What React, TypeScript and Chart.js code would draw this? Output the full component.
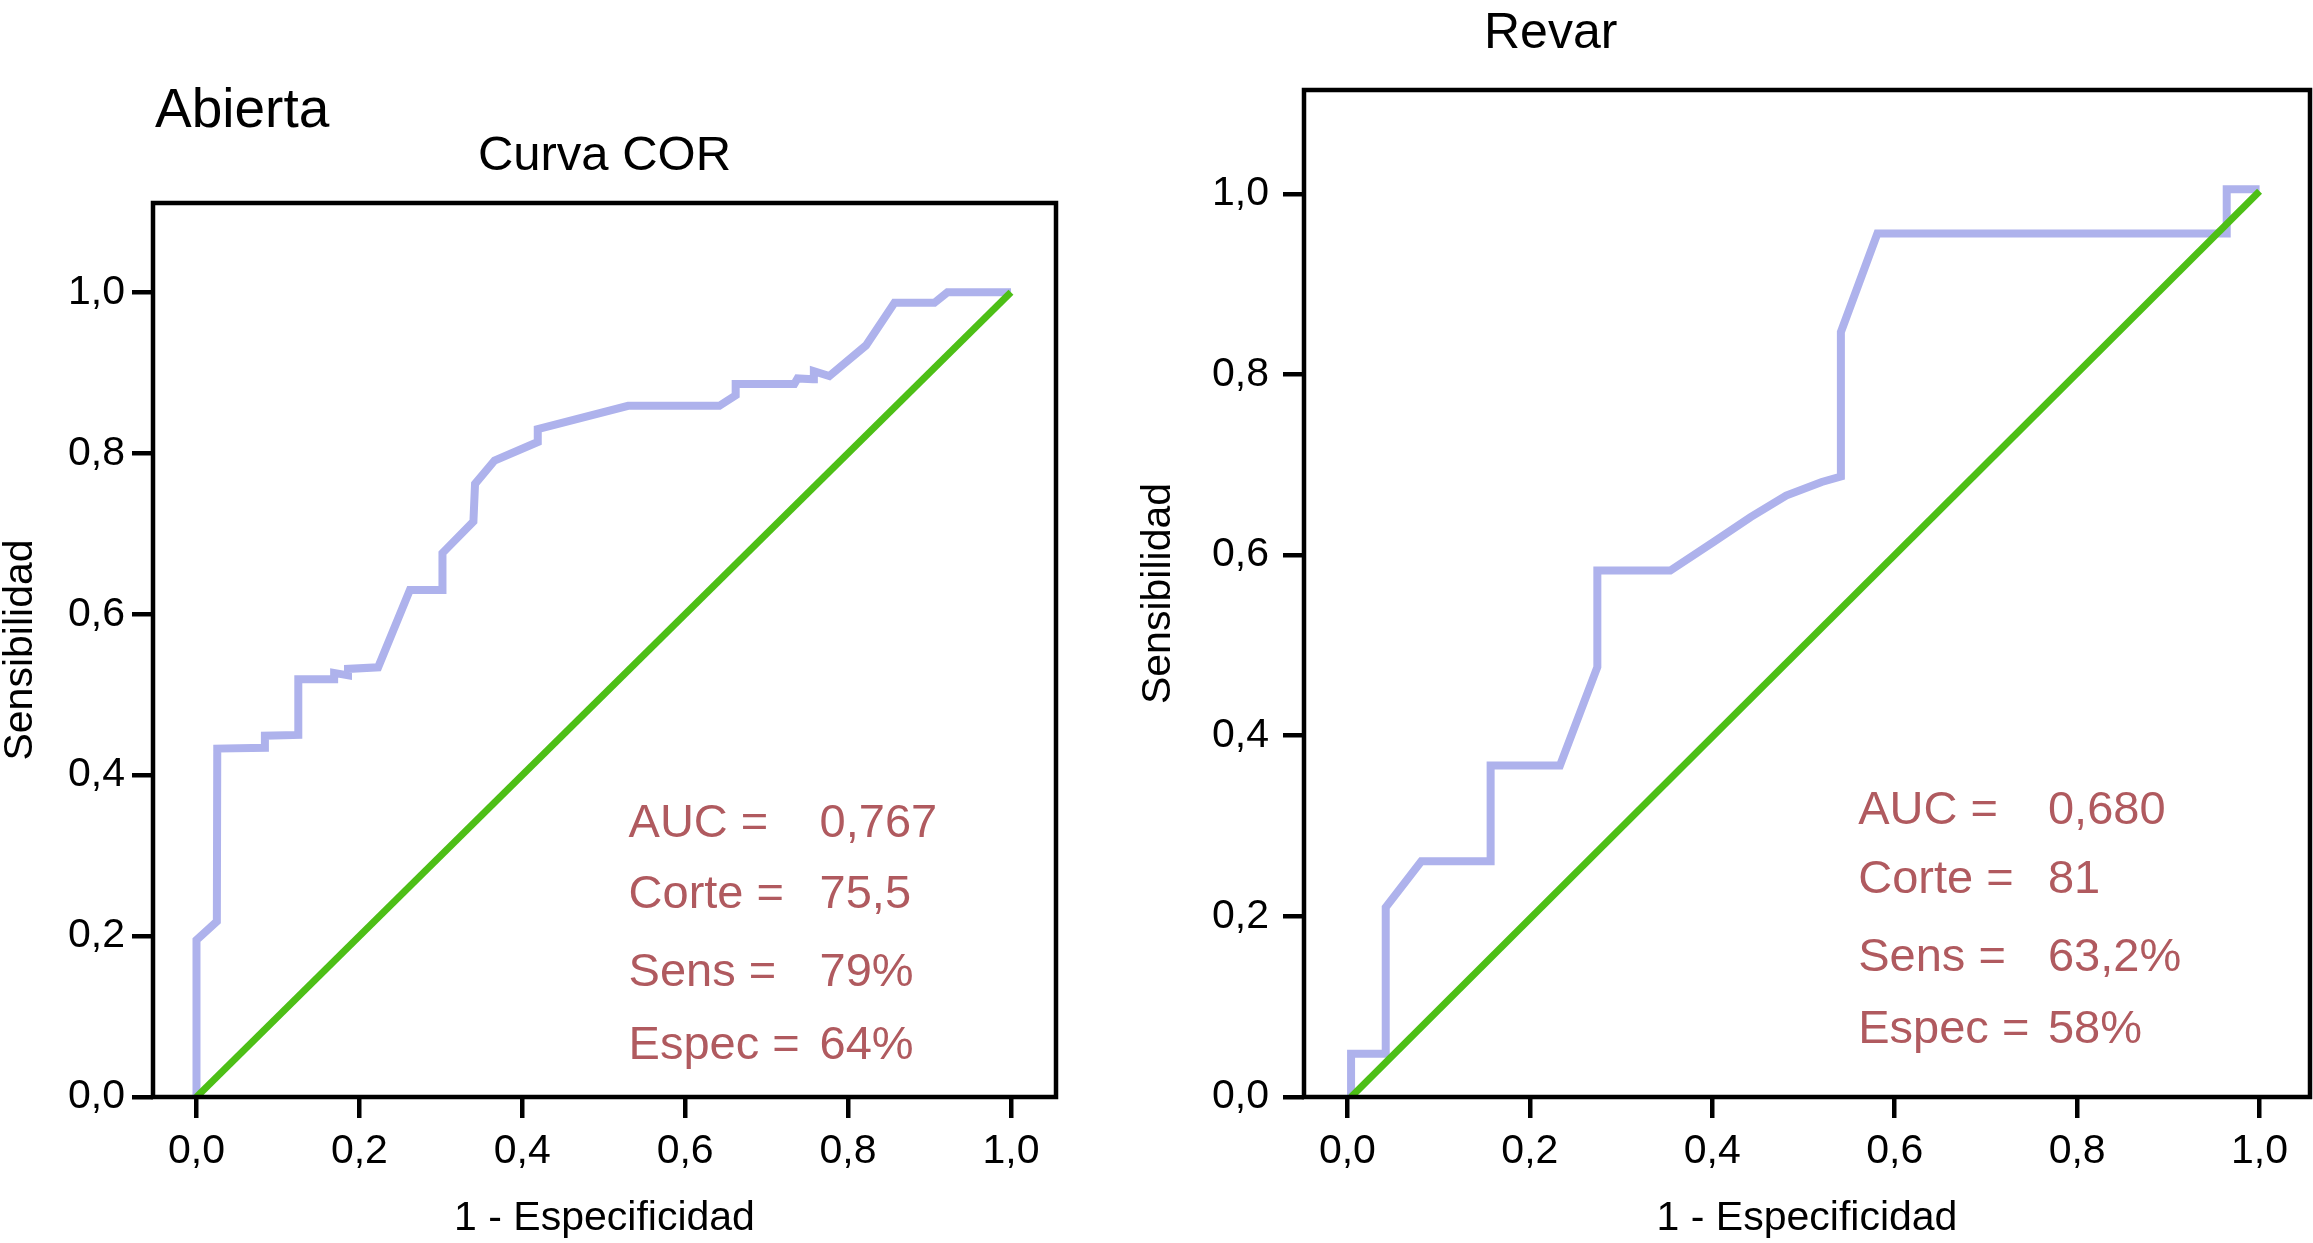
import React, { useEffect, useRef } from 'react';
import { Chart, registerables } from 'chart.js';

Chart.register(...registerables);

// ---------- data ----------
const tickValues = [0, 0.2, 0.4, 0.6, 0.8, 1.0];

const abiertaFpr = [0, 0, 0.025, 0.0255, 0.084, 0.084, 0.125, 0.125, 0.169, 0.169, 0.186, 0.186, 0.223, 0.262, 0.302, 0.302, 0.34, 0.342, 0.366, 0.419, 0.419, 0.53, 0.642, 0.662, 0.662, 0.734, 0.738, 0.757, 0.758, 0.777, 0.822, 0.857, 0.906, 0.922, 1.0];
const abiertaTpr = [0, 0.195, 0.218, 0.433, 0.434, 0.449, 0.45, 0.519, 0.519, 0.527, 0.524, 0.532, 0.534, 0.63, 0.63, 0.676, 0.715, 0.762, 0.791, 0.814, 0.83, 0.859, 0.859, 0.872, 0.886, 0.886, 0.893, 0.892, 0.902, 0.896, 0.934, 0.987, 0.987, 1.0, 1.0];
const abiertaRefX = [0, 1];
const abiertaRefY = [0, 1];

const revarFpr = [0.004, 0.004, 0.042, 0.042, 0.081, 0.157, 0.157, 0.233, 0.274, 0.274, 0.354, 0.402, 0.442, 0.481, 0.52, 0.541, 0.541, 0.581, 0.964, 0.964, 1.0];
const revarTpr = [0, 0.048, 0.048, 0.21, 0.261, 0.261, 0.367, 0.367, 0.476, 0.583, 0.583, 0.615, 0.642, 0.666, 0.681, 0.687, 0.847, 0.956, 0.956, 1.005, 1.005];
const revarRefX = [0.004, 1];
const revarRefY = [0, 1.003];

const statLabels = ['AUC =', 'Corte =', 'Sens =', 'Espec ='];
const abiertaStatValues = ['0,767', '75,5', '79%', '64%'];
const revarStatValues = ['0,680', '81', '63,2%', '58%'];

const xTitle = '1 - Especificidad';
const yTitle = 'Sensibilidad';

// ---------- styles / layout ----------
const FONT = '"Liberation Sans", Arial, Helvetica, sans-serif';
const ROC_COLOR = '#aeb2ec';
const DIAG_COLOR = '#4dbf16';
const STAT_COLOR = '#b05a5f';

type Panel = {
  fpr: number[]; tpr: number[]; refX: number[]; refY: number[];
  values: string[];
  left: number; width: number;
  padTop: number; padRight: number; yScaleWidth: number;
  xMin: number; xMax: number; yMax: number;
  yTickPad: number; yTitlePad: number;
  statX: number; valueX: number; statY: number[];
  titles: { text: string; size: number; x: number | 'center'; y: number; align: CanvasTextAlign }[];
};

const panels: Panel[] = [
  {
    fpr: abiertaFpr, tpr: abiertaTpr, refX: abiertaRefX, refY: abiertaRefY,
    values: abiertaStatValues,
    left: 0, width: 1110,
    padTop: 203, padRight: 54, yScaleWidth: 153,
    xMin: -0.0534, xMax: 1.0553, yMax: 1.111,
    yTickPad: 7, yTitlePad: 0,
    statX: 0.5305, valueX: 0.765, statY: [0.323, 0.2354, 0.1385, 0.0472],
    titles: [
      { text: 'Abierta', size: 55, x: 155, y: 127, align: 'left' },
      { text: 'Curva COR', size: 49, x: 'center', y: 170, align: 'center' },
    ],
  },
  {
    fpr: revarFpr, tpr: revarTpr, refX: revarRefX, refY: revarRefY,
    values: revarStatValues,
    left: 1110, width: 1203,
    padTop: 90, padRight: 3, yScaleWidth: 194,
    xMin: -0.0476, xMax: 1.0553, yMax: 1.115,
    yTickPad: 14, yTitlePad: 28,
    statX: 0.56, valueX: 0.768, statY: [0.3025, 0.2255, 0.139, 0.0593],
    titles: [
      { text: 'Revar', size: 50, x: 374, y: 48, align: 'left' },
    ],
  },
];

const fmt = (v: number) => Number(v).toFixed(1).replace('.', ',');

function RocPanel({ p }: { p: Panel }) {
  const ref = useRef<HTMLCanvasElement | null>(null);
  useEffect(() => {
    const canvas = ref.current;
    if (!canvas) return;
    const overlay = {
      id: 'overlay',
      afterDraw(chart: any) {
        const { ctx, chartArea: a, scales } = chart;
        ctx.save();
        ctx.strokeStyle = '#000';
        ctx.lineWidth = 4.5;
        ctx.strokeRect(a.left, a.top, a.right - a.left, a.bottom - a.top);
        ctx.fillStyle = '#000';
        ctx.textBaseline = 'alphabetic';
        for (const t of p.titles) {
          ctx.font = `${t.size}px ${FONT}`;
          ctx.textAlign = t.align;
          const x = t.x === 'center' ? (a.left + a.right) / 2 : t.x;
          ctx.fillText(t.text, x, t.y);
        }
        ctx.fillStyle = STAT_COLOR;
        ctx.font = `47px ${FONT}`;
        ctx.textAlign = 'left';
        statLabels.forEach((lab, i) => {
          const y = scales.y.getPixelForValue(p.statY[i]);
          ctx.fillText(lab, scales.x.getPixelForValue(p.statX), y);
          ctx.fillText(p.values[i], scales.x.getPixelForValue(p.valueX), y);
        });
        ctx.restore();
      },
    };
    const tickFont = { family: FONT, size: 41 };
    const grid = { drawOnChartArea: false, drawTicks: true, tickLength: 21, lineWidth: 4.5, color: '#000' };
    const chart = new Chart(canvas, {
      type: 'scatter',
      data: {
        datasets: [
          {
            label: 'ref',
            data: p.refX.map((x, i) => ({ x, y: p.refY[i] })),
            showLine: true, borderColor: DIAG_COLOR, borderWidth: 7, pointRadius: 0,
            borderCapStyle: 'butt', order: 0,
          },
          {
            label: 'roc',
            data: p.fpr.map((x, i) => ({ x, y: p.tpr[i] })),
            showLine: true, borderColor: ROC_COLOR, borderWidth: 8, pointRadius: 0,
            borderJoinStyle: 'miter', borderCapStyle: 'butt', order: 1,
          },
        ],
      },
      options: {
        animation: false,
        responsive: false,
        devicePixelRatio: 1,
        events: [],
        layout: { padding: { top: p.padTop, right: p.padRight, left: 0, bottom: 0 } },
        plugins: { legend: { display: false }, tooltip: { enabled: false } },
        scales: {
          x: {
            type: 'linear', min: p.xMin, max: p.xMax,
            afterBuildTicks: (s: any) => { s.ticks = tickValues.map((v) => ({ value: v })); },
            afterFit: (s: any) => { s.height = 146; },
            ticks: { callback: (v: any) => fmt(v), font: tickFont, color: '#000', padding: 9, maxRotation: 0, autoSkip: false },
            grid, border: { display: false },
            title: { display: true, text: xTitle, color: '#000', font: { family: FONT, size: 41, lineHeight: 1 }, padding: { top: 0, bottom: 4 } },
          },
          y: {
            type: 'linear', min: 0, max: p.yMax,
            afterBuildTicks: (s: any) => { s.ticks = tickValues.map((v) => ({ value: v })); },
            afterFit: (s: any) => { s.width = p.yScaleWidth; },
            ticks: { callback: (v: any) => fmt(v), font: tickFont, color: '#000', padding: p.yTickPad, autoSkip: false },
            grid, border: { display: false },
            title: { display: true, text: yTitle, color: '#000', font: { family: FONT, size: 41, lineHeight: 1 }, padding: { top: p.yTitlePad, bottom: 0 } },
          },
        },
      } as any,
      plugins: [overlay],
    });
    return () => chart.destroy();
  }, [p]);
  return (
    <canvas
      ref={ref}
      width={p.width}
      height={1243}
      style={{ position: 'absolute', left: p.left, top: 0, width: p.width, height: 1243 }}
    />
  );
}

export default function App() {
  return (
    <div style={{ position: 'absolute', left: 0, top: 0, width: 2313, height: 1243, background: '#fff', overflow: 'hidden' }}>
      {panels.map((p, i) => (
        <RocPanel key={i} p={p} />
      ))}
    </div>
  );
}
